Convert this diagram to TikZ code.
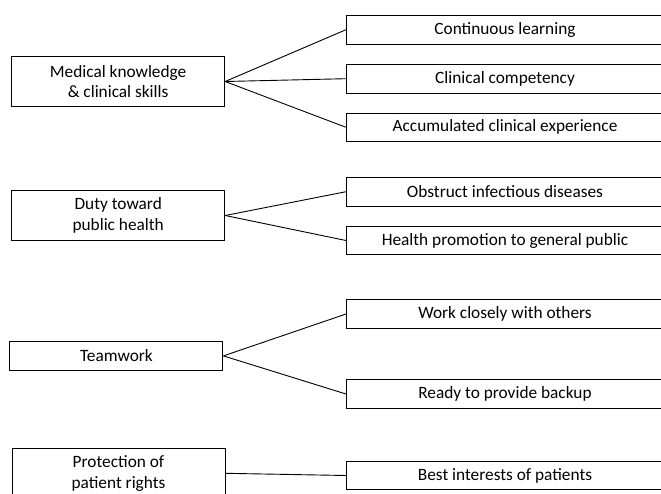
\documentclass[tikz,border=0pt]{standalone}
\usepackage{fontspec}
\setmainfont{Carlito}
\usetikzlibrary{positioning}

\begin{document}
\begin{tikzpicture}[x=1pt,y=-1pt,
        leftbox/.style={draw,line width=1pt,inner sep=0pt,minimum width=213pt,minimum height=49.6pt,align=center,font=\fontsize{17.3}{20.5}\selectfont},
        rightbox/.style={draw,line width=1pt,inner sep=0pt,minimum width=317pt,minimum height=28.6pt,font=\fontsize{17.3}{20.5}\selectfont},
        link/.style={line width=0.9pt}]
        \useasboundingbox (0,0) rectangle (661,493);
        \node[leftbox] (med) at (118.1,81.5) {Medical knowledge\\\& clinical skills};
        \node[leftbox] (duty) at (118.2,215.5) {Duty toward\\public health};
        \node[leftbox,minimum height=28.3pt] (team) at (116.4,355.9) {Teamwork};
        \node[leftbox] (prot) at (118.5,473.3) {Protection of\\patient rights};
        \node[rightbox] (learn) at (505,29.7) {Continuous learning};
        \node[rightbox] (compet) at (505,78.7) {Clinical competency};
        \node[rightbox] (exper) at (505,127.3) {Accumulated clinical experience};
        \node[rightbox] (infect) at (505,191.7) {Obstruct infectious diseases};
        \node[rightbox] (promo) at (505,240.5) {Health promotion to general public};
        \node[rightbox] (closely) at (505,314) {Work closely with others};
        \node[rightbox] (backup) at (505,394) {Ready to provide backup};
        \node[rightbox] (interest) at (505,475.5) {Best interests of patients};
        \foreach \r in {learn,compet,exper}
            \draw[link] (med.east) -- (\r.west);
        \foreach \r in {infect,promo}
            \draw[link] (duty.east) -- (\r.west);
        \foreach \r in {closely,backup}
            \draw[link] (team.east) -- (\r.west);
        \draw[link] (prot.east) -- (interest.west);
    \end{tikzpicture}
\end{document}
